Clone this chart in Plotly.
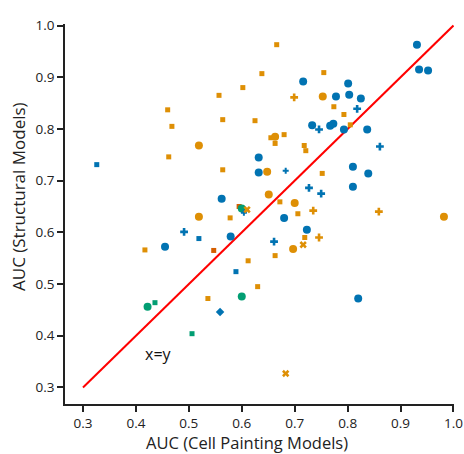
import plotly.graph_objects as go

# Colours (seaborn colorblind palette)
BLUE = "#0173b2"
ORANGE = "#de8f05"
GREEN = "#029e73"
VERMIL = "#d55e00"

# ---- data: (Cell Painting AUC, Structural AUC) ----
blue_circle_x = [0.931, 0.935, 0.952, 0.716, 0.801, 0.778, 0.803, 0.825, 0.733, 0.767, 0.773, 0.793,
                 0.837, 0.632, 0.632, 0.810, 0.839, 0.810, 0.562, 0.680, 0.723, 0.579, 0.455, 0.820]
blue_circle_y = [0.963, 0.915, 0.913, 0.892, 0.888, 0.863, 0.866, 0.859, 0.807, 0.806, 0.810, 0.799,
                 0.799, 0.745, 0.716, 0.727, 0.714, 0.688, 0.665, 0.628, 0.605, 0.592, 0.572, 0.472]

blue_plus_x = [0.818, 0.746, 0.861, 0.727, 0.750, 0.491, 0.661]
blue_plus_y = [0.839, 0.799, 0.766, 0.686, 0.675, 0.601, 0.582]
blue_smallplus_x = [0.683, 0.604]
blue_smallplus_y = [0.719, 0.638]

blue_square_x = [0.326, 0.519, 0.589]
blue_square_y = [0.731, 0.588, 0.524]

blue_diamond_x = [0.559]
blue_diamond_y = [0.446]

orange_circle_x = [0.753, 0.519, 0.663, 0.648, 0.651, 0.700, 0.519, 0.697, 0.982]
orange_circle_y = [0.863, 0.768, 0.785, 0.717, 0.673, 0.657, 0.630, 0.568, 0.630]

orange_square_x = [0.666, 0.638, 0.755, 0.602, 0.557, 0.460, 0.564, 0.625, 0.468, 0.774,
                   0.793, 0.805, 0.655, 0.680, 0.663, 0.718, 0.721, 0.462, 0.564, 0.752,
                   0.672, 0.706, 0.578, 0.719, 0.417, 0.663, 0.612, 0.630, 0.536]
orange_square_y = [0.963, 0.907, 0.909, 0.880, 0.865, 0.837, 0.818, 0.816, 0.805, 0.843,
                   0.828, 0.808, 0.783, 0.789, 0.772, 0.768, 0.758, 0.746, 0.721, 0.714,
                   0.659, 0.636, 0.628, 0.590, 0.566, 0.555, 0.545, 0.495, 0.472]

orange_plus_x = [0.699, 0.746, 0.859, 0.735]
orange_plus_y = [0.861, 0.590, 0.640, 0.642]

orange_x_x = [0.716, 0.683, 0.610]
orange_x_y = [0.576, 0.327, 0.644]

vermil_square_x = [0.595, 0.547]
vermil_square_y = [0.650, 0.565]

green_circle_x = [0.600, 0.600, 0.422]
green_circle_y = [0.646, 0.476, 0.456]

green_square_x = [0.436, 0.506]
green_square_y = [0.464, 0.404]

line_x = [0.3, 1.0]
line_y = [0.3, 1.0]

tick_vals = [0.3, 0.4, 0.5, 0.6, 0.7, 0.8, 0.9, 1.0]
tick_text = ["0.3", "0.4", "0.5", "0.6", "0.7", "0.8", "0.9", "1.0"]

x_title = "AUC (Cell Painting Models)"
y_title = "AUC (Structural Models)"

fig = go.Figure()

fig.add_trace(go.Scatter(x=line_x, y=line_y, mode="lines",
                         line=dict(color="red", width=2), hoverinfo="skip"))


def add(xs, ys, color, symbol, size):
    fig.add_trace(go.Scatter(x=xs, y=ys, mode="markers",
                             marker=dict(color=color, symbol=symbol, size=size,
                                         line=dict(width=0))))


add(orange_square_x, orange_square_y, ORANGE, "square", 5)
add(blue_square_x, blue_square_y, BLUE, "square", 5)
add(vermil_square_x, vermil_square_y, VERMIL, "square", 5)
add(green_square_x, green_square_y, GREEN, "square", 5)
add(orange_circle_x, orange_circle_y, ORANGE, "circle", 8)
add(blue_circle_x, blue_circle_y, BLUE, "circle", 8)
add(green_circle_x, green_circle_y, GREEN, "circle", 8)
add(orange_plus_x, orange_plus_y, ORANGE, "cross", 6.5)
add(blue_plus_x, blue_plus_y, BLUE, "cross", 6.5)
add(blue_smallplus_x, blue_smallplus_y, BLUE, "cross", 5)
add(orange_x_x, orange_x_y, ORANGE, "x", 6.5)
add(blue_diamond_x, blue_diamond_y, BLUE, "diamond", 6.5)

fig.add_annotation(x=0.443, y=0.365, text="x=y", showarrow=False,
                   font=dict(size=16, color="#111111"))

# axis titles (placed as in the reference)
fig.add_annotation(xref="paper", yref="paper", x=0.468, y=-0.10,
                   xanchor="center", yanchor="middle", showarrow=False,
                   text=x_title, font=dict(size=16.5, color="#222222"))
fig.add_annotation(xref="paper", yref="paper", x=-0.118, y=0.545,
                   xanchor="center", yanchor="middle", showarrow=False, textangle=-90,
                   text=y_title, font=dict(size=17, color="#222222"))

axis_common = dict(
    showline=True, linecolor="#222222", linewidth=1.5,
    ticks="outside", ticklen=6, tickwidth=1.5, tickcolor="#222222",
    showgrid=False, zeroline=False, mirror=False, automargin=False,
    tickvals=tick_vals, ticktext=tick_text,
    tickfont=dict(size=13.5, color="#222222"),
)

fig.update_layout(
    width=464, height=454,
    margin=dict(l=65, r=10, t=24, b=50),
    plot_bgcolor="white", paper_bgcolor="white",
    showlegend=False,
    font=dict(family="Open Sans, sans-serif", color="#222222"),
    xaxis=dict(range=[0.266, 1.001], **axis_common),
    yaxis=dict(range=[0.268, 1.003], **axis_common),
)

# remove the default 8px page margin so the 464x454 figure fills the window exactly
fig.write_html("out.html",
               config={"displayModeBar": False},
               post_script="document.body.style.margin='0px';document.body.style.overflow='hidden';")
